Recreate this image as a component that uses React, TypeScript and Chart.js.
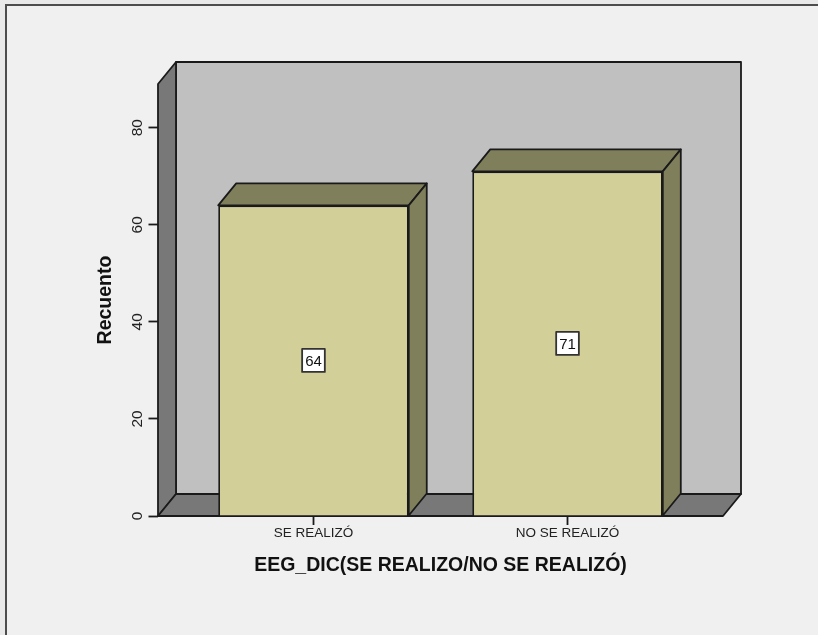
import React, { useEffect, useRef } from 'react';
import { Chart, registerables } from 'chart.js';

Chart.register(...registerables);

// ---- data ----
const categories: string[] = ['SE REALIZÓ', 'NO SE REALIZÓ'];
const counts: number[] = [64, 71];
const yTickValues: number[] = [0, 20, 40, 60, 80];
const xTitle = 'EEG_DIC(SE REALIZO/NO SE REALIZÓ)';
const yTitle = 'Recuento';

const FONT = "'Liberation Sans', Arial, Helvetica, sans-serif";
const DX = 18;
const DY = 22;
const LINE = '#1a1a1a';
const WALL_BACK = '#c0c0c0';
const WALL_DARK = '#787878';
const BAR_FRONT = '#d3cf98';
const BAR_SHADE = '#807f5c';

const threeD = {
  id: 'threeD',
  beforeDraw(chart: any) {
    const { ctx, width, height } = chart;
    ctx.save();
    ctx.fillStyle = '#e9e9e9';
    ctx.fillRect(0, 0, width, height);
    ctx.fillStyle = '#f0f0f0';
    ctx.fillRect(6, 5, width - 6, height - 5);
    ctx.strokeStyle = '#4d4d4d';
    ctx.lineWidth = 2;
    ctx.beginPath();
    ctx.moveTo(6, height);
    ctx.lineTo(6, 5);
    ctx.lineTo(width, 5);
    ctx.stroke();
    ctx.restore();
  },
  beforeDatasetsDraw(chart: any) {
    const { ctx } = chart;
    const { left: L, right: R, top: T, bottom: B } = chart.chartArea;
    ctx.save();
    ctx.lineWidth = 1.8;
    ctx.strokeStyle = LINE;
    ctx.lineJoin = 'round';
    // back wall
    ctx.fillStyle = WALL_BACK;
    ctx.beginPath();
    ctx.rect(L + DX, T - DY, R - L, B - T);
    ctx.fill();
    ctx.stroke();
    // left side wall
    ctx.fillStyle = WALL_DARK;
    ctx.beginPath();
    ctx.moveTo(L, T);
    ctx.lineTo(L + DX, T - DY);
    ctx.lineTo(L + DX, B - DY);
    ctx.lineTo(L, B);
    ctx.closePath();
    ctx.fill();
    ctx.stroke();
    // floor
    ctx.beginPath();
    ctx.moveTo(L, B);
    ctx.lineTo(L + DX, B - DY);
    ctx.lineTo(R + DX, B - DY);
    ctx.lineTo(R, B);
    ctx.closePath();
    ctx.fill();
    ctx.stroke();
    ctx.restore();
  },
  afterDatasetsDraw(chart: any) {
    const { ctx } = chart;
    const meta = chart.getDatasetMeta(0);
    ctx.save();
    ctx.strokeStyle = LINE;
    ctx.lineJoin = 'round';
    meta.data.forEach((bar: any, i: number) => {
      const { x, y, base, width } = bar.getProps(['x', 'y', 'base', 'width'], true);
      const l = x - width / 2;
      const r = x + width / 2;
      ctx.lineWidth = 1.8;
      ctx.fillStyle = BAR_SHADE;
      // top face
      ctx.beginPath();
      ctx.moveTo(l, y);
      ctx.lineTo(l + DX, y - DY);
      ctx.lineTo(r + DX, y - DY);
      ctx.lineTo(r, y);
      ctx.closePath();
      ctx.fill();
      ctx.stroke();
      // side face
      ctx.beginPath();
      ctx.moveTo(r, y);
      ctx.lineTo(r + DX, y - DY);
      ctx.lineTo(r + DX, base - DY);
      ctx.lineTo(r, base);
      ctx.closePath();
      ctx.fill();
      ctx.stroke();
      // value label
      const txt = String(counts[i]);
      ctx.font = `15px ${FONT}`;
      const tw = ctx.measureText(txt).width;
      const bw = tw + 6;
      const bh = 23;
      const cy = (y + base) / 2;
      ctx.fillStyle = '#ffffff';
      ctx.strokeStyle = '#333333';
      ctx.lineWidth = 1.8;
      ctx.beginPath();
      ctx.rect(x - bw / 2, cy - bh / 2, bw, bh);
      ctx.fill();
      ctx.stroke();
      ctx.strokeStyle = LINE;
      ctx.fillStyle = '#111111';
      ctx.textAlign = 'center';
      ctx.textBaseline = 'middle';
      ctx.fillText(txt, x, cy + 1);
    });
    ctx.restore();
  },
};

export default function App() {
  const ref = useRef<HTMLCanvasElement | null>(null);

  useEffect(() => {
    if (!ref.current) return;
    const chart = new Chart(ref.current, {
      type: 'bar',
      data: {
        datasets: [
          {
            data: counts.map((v, i) => ({ x: i, y: v })),
            backgroundColor: BAR_FRONT,
            borderColor: LINE,
            borderWidth: 1.8,
            barPercentage: 0.75,
            categoryPercentage: 1,
          },
        ],
      },
      options: {
        responsive: false,
        animation: false,
        devicePixelRatio: 1,
        layout: { padding: { left: 88, right: 95, top: 84, bottom: 39 } },
        plugins: { legend: { display: false }, tooltip: { enabled: false } },
        scales: {
          x: {
            type: 'linear',
            min: -0.612,
            max: 1.612,
            offset: false,
            afterBuildTicks: (scale: any) => {
              scale.ticks = categories.map((_, i) => ({ value: i }));
            },
            afterFit: (scale: any) => {
              scale.height = 80;
            },
            border: { display: false },
            grid: {
              display: true,
              drawOnChartArea: false,
              drawTicks: true,
              tickLength: 9,
              tickColor: LINE,
              tickWidth: 1.8,
              offset: false,
            },
            ticks: {
              padding: 0,
              autoSkip: false,
              maxRotation: 0,
              color: '#222222',
              font: { family: FONT, size: 13.5 },
              callback: (v: any) => categories[Math.round(Number(v))] ?? '',
            },
            title: {
              display: true,
              text: xTitle,
              color: '#111111',
              font: { family: FONT, size: 19.5, weight: 'bold' },
              padding: { top: 0, bottom: 18.3 },
            },
          },
          y: {
            type: 'linear',
            min: 0,
            max: 89,
            afterBuildTicks: (scale: any) => {
              scale.ticks = yTickValues.map((v) => ({ value: v }));
            },
            afterFit: (scale: any) => {
              scale.width = 70;
            },
            border: { display: false },
            grid: {
              display: true,
              drawOnChartArea: false,
              drawTicks: true,
              tickLength: 9.5,
              tickColor: LINE,
              tickWidth: 1.8,
            },
            ticks: {
              minRotation: 90,
              maxRotation: 90,
              crossAlign: 'center',
              padding: 2.4,
              color: '#222222',
              font: { family: FONT, size: 15.5 },
            },
            title: {
              display: true,
              text: yTitle,
              color: '#111111',
              font: { family: FONT, size: 19.5, weight: 'bold' },
              padding: { top: 5.8, bottom: 0 },
            },
          },
        },
      },
      plugins: [threeD],
    } as any);
    return () => chart.destroy();
  }, []);

  return (
    <div style={{ position: 'fixed', left: 0, top: 0, width: 818, height: 635 }}>
      <canvas ref={ref} width={818} height={635} style={{ display: 'block', width: 818, height: 635 }} />
    </div>
  );
}
